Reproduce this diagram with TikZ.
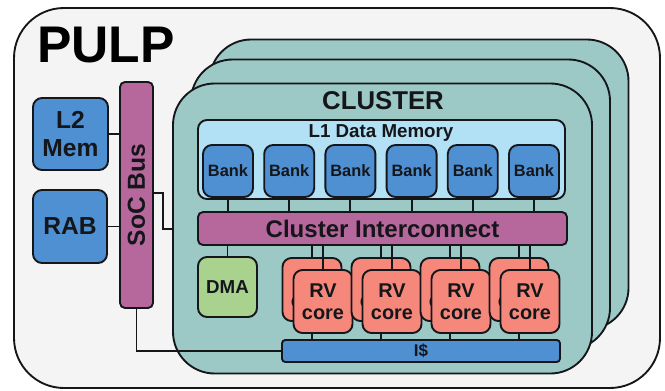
\documentclass[tikz,border=0pt]{standalone}
\usepackage{fontspec}
\setmainfont{Liberation Sans}
\usepackage{tikz}
\usetikzlibrary{calc,positioning}

\definecolor{pulpbg}{RGB}{244,244,244}
\definecolor{clusterc}{RGB}{156,201,197}
\definecolor{memc}{RGB}{178,224,245}
\definecolor{bankc}{RGB}{78,144,210}
\definecolor{busc}{RGB}{182,104,156}
\definecolor{dmac}{RGB}{168,210,142}
\definecolor{corec}{RGB}{245,136,122}
\definecolor{edgec}{RGB}{20,22,26}

\begin{document}
\begin{tikzpicture}[x=0.03cm,y=-0.03cm,line width=1.6pt,
  every node/.style={font=\bfseries,text=edgec},
  blk/.style={draw=edgec,rounded corners=0.27cm,inner sep=0pt,align=center},
  clbox/.style={blk,fill=clusterc,rounded corners=1.25cm,minimum width=12.57cm,minimum height=8.7cm},
  bank/.style={blk,fill=bankc,minimum width=1.5cm,minimum height=1.56cm,font=\bfseries\fontsize{14}{14}\selectfont},
  core/.style={blk,fill=corec,minimum width=1.77cm,minimum height=1.89cm,font=\bfseries\fontsize{17}{19}\selectfont},
  bus/.style={blk,fill=busc,rounded corners=0.15cm},
  conn/.style={draw=edgec}]
\useasboundingbox (0,0) rectangle (665,391);
\draw[draw=edgec,fill=pulpbg,rounded corners=1.5cm] (14,8) rectangle (660,388);
\node[font=\bfseries\fontsize{44}{44}\selectfont,text=black] (pulp) at (106,45) {PULP};
% cluster stack
\node[clbox] (cl3) at (419,184.5) {};
\node[clbox] (cl2) at (400.5,204.5) {};
\node[clbox] (cl1) at (382.5,228.5) {};
\node[font=\bfseries\fontsize{22}{22}\selectfont] (cltitle) at (383,101) {CLUSTER};
% L1 memory and banks
\node[blk,fill=memc,minimum width=11.01cm,minimum height=2.37cm] (l1) at (381.5,159.5) {};
\node[font=\bfseries\fontsize{16}{16}\selectfont] (l1title) at (381,133) {L1 Data Memory};
\foreach \i in {0,...,5}
  \node[bank] (bk\i) at ({228+61.2*\i},171) {Bank};
\node[bus,minimum width=11.07cm,minimum height=0.99cm,font=\bfseries\fontsize{20.5}{20.5}\selectfont] (ic) at (382.5,228.5) {Cluster Interconnect};
\foreach \i in {0,...,5}
  \draw[conn] (bk\i) -- (bk\i |- ic.north);
% DMA and cores
\node[blk,fill=dmac,minimum width=1.77cm,minimum height=1.8cm,font=\bfseries\fontsize{16}{16}\selectfont] (dma) at (227.5,287) {DMA};
\draw[conn] (dma) -- (dma |- ic.south);
\node[blk,fill=bankc,rounded corners=0.1cm,minimum width=8.34cm,minimum height=0.66cm,font=\bfseries\fontsize{14.5}{14.5}\selectfont] (icache) at (421,351) {I\$};
\foreach \i in {0,...,3}{
  \node[core] (cb\i) at ({312+69*\i},289.5) {RV\\core};
  \draw[conn] (cb\i.north) -- (cb\i |- ic.south);
  \node[core] (cf\i) at ({323+69*\i},301.5) {RV\\core};
  \draw[conn] (cf\i.north) -- (cf\i |- ic.south);
  \draw[conn] (cb\i |- cf\i.south) -- (cb\i |- icache.north);
}
% SoC side
\node[bus,minimum width=0.99cm,minimum height=6.78cm] (soc) at (136.5,195) {};
\node[rotate=90,font=\bfseries\fontsize{21}{21}\selectfont] (soctext) at (soc) {SoC Bus};
\node[blk,fill=bankc,minimum width=2.25cm,minimum height=2.16cm,font=\bfseries\fontsize{21}{24}\selectfont] (l2) at (70.5,134) {L2\\Mem};
\node[blk,fill=bankc,minimum width=2.22cm,minimum height=2.19cm,font=\bfseries\fontsize{21}{21}\selectfont] (rab) at (70,226.5) {RAB};
\draw[conn] (l2) -- (l2 -| soc.west);
\draw[conn] (rab) -- (rab -| soc.west);
\coordinate (socbend) at (163,229);
\draw[conn] (soc.east |- 0,193) -| (socbend) -- (cl1.west |- socbend);
\draw[conn] (soc.south) |- (icache.west);
\end{tikzpicture}
\end{document}
